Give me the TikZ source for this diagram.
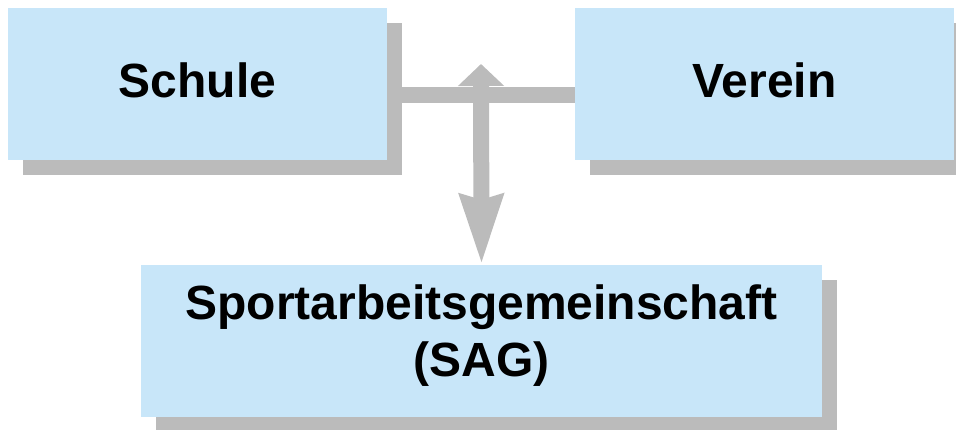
\documentclass[tikz,border=0pt]{standalone}
\usepackage{fontspec}
\setmainfont{Liberation Sans}
\usetikzlibrary{arrows.meta,shadows,backgrounds}
\definecolor{boxblue}{RGB}{200,230,249}
\definecolor{shadegray}{RGB}{187,187,187}
\begin{document}
\begin{tikzpicture}[x=1pt,y=-1pt,
  orgbox/.style={rectangle, fill=boxblue, draw=none, inner sep=0pt, outer sep=0pt,
    minimum height=152pt, align=center,
    font=\fontsize{48}{57}\selectfont\bfseries,
    copy shadow={shadow xshift=15pt, shadow yshift=-15pt, fill=shadegray, draw=none}},
  bar/.style={draw=shadegray, line width=16pt},
  flow/.style={draw=shadegray, line width=16pt,
    {Triangle[length=22pt,width=45pt]}-{Stealth[length=69pt,width=41pt,inset=4pt]}}]
  \useasboundingbox (0,0) rectangle (956,430);

  % the three boxes
  \node[orgbox, minimum width=379pt, text depth=7pt] (schule) at (197.5,84) {Schule};
  \node[orgbox, minimum width=379pt, text depth=7pt] (verein) at (764.5,84) {Verein};
  \node[orgbox, minimum width=681pt, text depth=20pt] (sag) at (481.5,341)
    {Sportarbeitsgemeinschaft\\(SAG)};

  % connectors behind the boxes
  \coordinate (junction) at (481,95);
  \coordinate (uptip) at (481,64);
  \begin{scope}[on background layer]
    \draw[bar] (schule.east |- junction) -- (verein.west |- junction);
    \draw[flow] (uptip) -- (sag.north);
  \end{scope}
\end{tikzpicture}
\end{document}
